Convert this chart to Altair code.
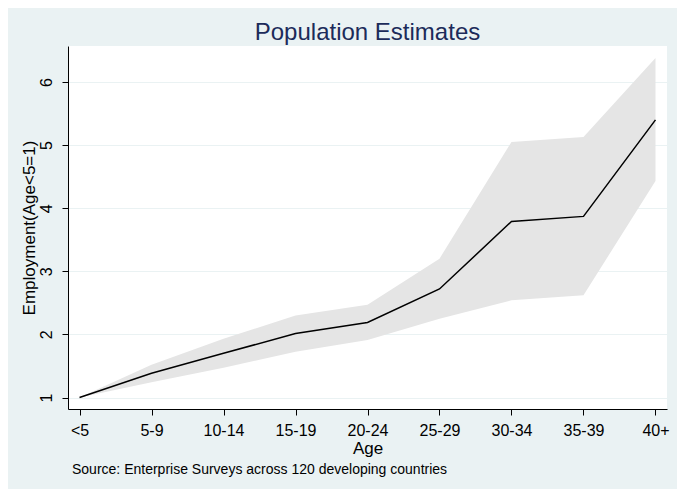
import altair as alt
import pandas as pd

ages = ["<5", "5-9", "10-14", "15-19", "20-24", "25-29", "30-34", "35-39", "40+"]
estimate = [1.00, 1.385, 1.70, 2.015, 2.19, 2.72, 3.79, 3.87, 5.40]
upper = [1.00, 1.52, 1.93, 2.30, 2.47, 3.20, 5.05, 5.13, 6.38]
lower = [1.00, 1.24, 1.47, 1.725, 1.91, 2.25, 2.54, 2.62, 4.43]
y_ticks = [1, 2, 3, 4, 5, 6]
title_text = "Population Estimates"
x_title = "Age"
y_title = "Employment(Age<5=1)"
caption = "Source: Enterprise Surveys across 120 developing countries"

df = pd.DataFrame({
    "idx": list(range(len(ages))),
    "age": ages,
    "est": estimate,
    "hi": upper,
    "lo": lower,
})

FONT = "Liberation Sans"
label_expr = "[" + ",".join("'" + a + "'" for a in ages) + "][datum.value]"

xscale = alt.Scale(domain=[-0.16, 8.16], nice=False, zero=False)
yscale = alt.Scale(domain=[0.818, 6.57], nice=False, zero=False)

xaxis = alt.Axis(
    values=list(range(len(ages))), labelExpr=label_expr, title=x_title,
    grid=False, tickSize=6, labelPadding=7, labelFontSize=16, titleFontSize=17,
    titlePadding=2, labelFlush=False, labelOverlap=False,
)
yaxis = alt.Axis(
    values=y_ticks, format="d", title=y_title, grid=True, gridColor="#EAF2F3", gridWidth=1,
    tickSize=6, labelAngle=270, labelAlign="center", labelBaseline="bottom",
    labelPadding=8, labelFontSize=16, titleFontSize=17, titlePadding=0,
)

band = alt.Chart(df).mark_area(color="#e5e5e5", opacity=1).encode(
    x=alt.X("idx:Q", scale=xscale, axis=xaxis),
    y=alt.Y("lo:Q", scale=yscale, axis=yaxis),
    y2="hi:Q",
)

line = alt.Chart(df).mark_line(color="black", strokeWidth=1.5).encode(
    x=alt.X("idx:Q", scale=xscale),
    y=alt.Y("est:Q", scale=yscale),
)

cap = alt.Chart(pd.DataFrame({"caption": [caption]})).mark_text(
    align="left", baseline="alphabetic", fontSize=14, font=FONT, color="black"
).encode(
    x=alt.value(4), y=alt.value(428), text="caption:N"
)

chart = alt.layer(band, line, cap).properties(
    width=599, height=363,
    title=alt.TitleParams(title_text, fontSize=24, font=FONT, fontWeight="normal",
                          color="#1c2b5a", anchor="middle", frame="group", offset=1),
    autosize=alt.AutoSizeParams(type="none"),
    padding={"left": 60, "top": 38, "right": 10, "bottom": 80},
    background="#EAF2F3",
).configure_view(
    fill="white", stroke=None
).configure_axis(
    domainColor="black", tickColor="black", domainWidth=1, tickWidth=1,
    labelColor="black", titleColor="black", labelFont=FONT, titleFont=FONT,
    titleFontWeight="normal",
)

chart.save("out.html", embed_options={"renderer": "svg", "actions": False})
